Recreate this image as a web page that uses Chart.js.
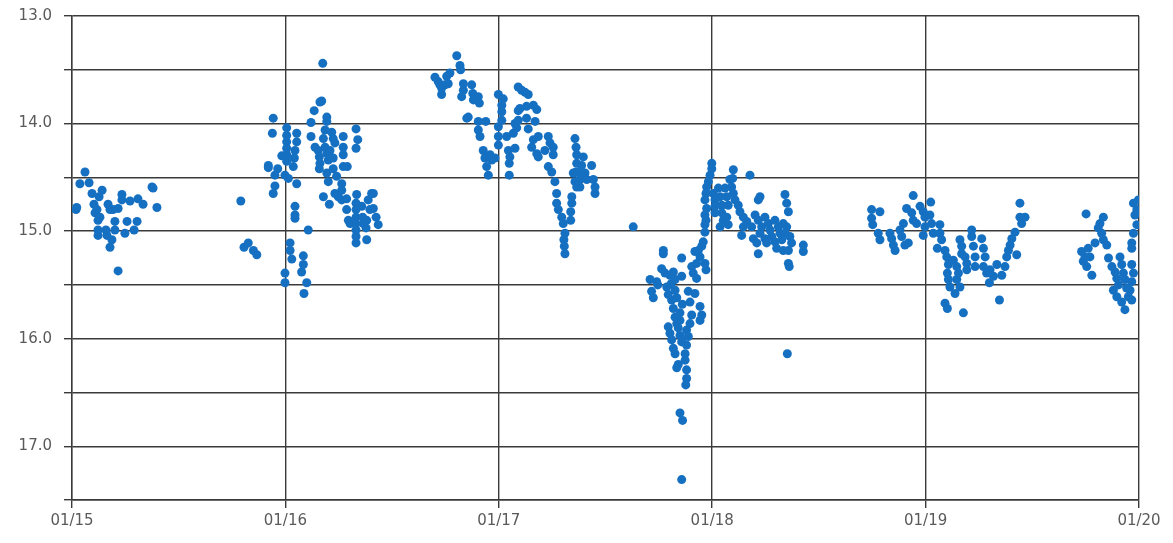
<!DOCTYPE html>
<html>
<head>
<meta charset="utf-8">
<script src="https://cdn.jsdelivr.net/npm/chart.js@4/dist/chart.umd.min.js"></script>
<style>
  html, body { margin: 0; padding: 0; background: #fff; }
  #wrap { width: 1173px; height: 543px; }
</style>
</head>
<body>
<div id="wrap"><canvas id="chart"></canvas></div>
<script>
  // x = day of January (fractional), y = magnitude
  const dayTicks = [15, 16, 17, 18, 19, 20];
  const magRange = [13.0, 17.5];

  const night15 = [
    [15.061, 14.45], [15.037, 14.56], [15.080, 14.55], [15.022, 14.78], [15.019, 14.80],
    [15.094, 14.65], [15.141, 14.62], [15.127, 14.68], [15.103, 14.75], [15.117, 14.80],
    [15.108, 14.83], [15.131, 14.87], [15.122, 14.90], [15.169, 14.75], [15.178, 14.80],
    [15.192, 14.80], [15.216, 14.79], [15.234, 14.66], [15.234, 14.71], [15.272, 14.72],
    [15.309, 14.70], [15.333, 14.75], [15.375, 14.59], [15.380, 14.60], [15.398, 14.78],
    [15.201, 14.91], [15.258, 14.91], [15.305, 14.91], [15.122, 14.99], [15.122, 15.04],
    [15.159, 14.99], [15.164, 15.04], [15.201, 14.99], [15.248, 15.02], [15.291, 14.99],
    [15.187, 15.08], [15.178, 15.15], [15.216, 15.37]
  ];

  const night16 = [
    [16.175, 13.44], [16.170, 13.79], [16.162, 13.80], [16.135, 13.88], [15.943, 13.95],
    [16.120, 13.99], [16.194, 13.94], [16.194, 13.98], [15.939, 14.09],
    [16.006, 14.04], [16.006, 14.11], [16.006, 14.17], [16.006, 14.23], [16.006, 14.29], [16.006, 14.35],
    [16.053, 14.09], [16.053, 14.17], [16.045, 14.25], [16.042, 14.32], [16.037, 14.40],
    [15.983, 14.30], [15.920, 14.39], [15.920, 14.41], [15.964, 14.42], [15.951, 14.48],
    [15.998, 14.48], [16.014, 14.51], [16.053, 14.56], [15.951, 14.58], [15.943, 14.65],
    [15.791, 14.72], [16.045, 14.77], [16.045, 14.85], [16.045, 14.88], [16.107, 14.99],
    [15.826, 15.11], [15.806, 15.15], [15.850, 15.18], [15.866, 15.22], [16.022, 15.11],
    [16.022, 15.18], [16.030, 15.26], [16.084, 15.23], [16.084, 15.31], [16.076, 15.38],
    [15.998, 15.39], [15.998, 15.48], [16.100, 15.48], [16.087, 15.58],
    [16.120, 14.12], [16.139, 14.22], [16.154, 14.25], [16.159, 14.31], [16.162, 14.37],
    [16.159, 14.42], [16.186, 14.06], [16.178, 14.14], [16.186, 14.22], [16.194, 14.28],
    [16.201, 14.34], [16.217, 14.08], [16.224, 14.14], [16.232, 14.18], [16.209, 14.25],
    [16.224, 14.32], [16.224, 14.42], [16.194, 14.46], [16.201, 14.54], [16.271, 14.12],
    [16.271, 14.22], [16.271, 14.29], [16.271, 14.40], [16.290, 14.40], [16.331, 14.05],
    [16.339, 14.15], [16.331, 14.23], [16.240, 14.49], [16.264, 14.56], [16.264, 14.62],
    [16.248, 14.68], [16.264, 14.71], [16.178, 14.68], [16.206, 14.75], [16.232, 14.65],
    [16.287, 14.70],
    [16.334, 14.66], [16.287, 14.80], [16.295, 14.90], [16.303, 14.93],
    [16.331, 14.74], [16.331, 14.80], [16.331, 14.87], [16.331, 14.93], [16.331, 14.99],
    [16.331, 15.05], [16.331, 15.11], [16.358, 14.77], [16.362, 14.87], [16.365, 14.93],
    [16.388, 14.71], [16.396, 14.80], [16.381, 14.90], [16.378, 14.97], [16.404, 14.65],
    [16.412, 14.65], [16.412, 14.79], [16.425, 14.87], [16.435, 14.94], [16.381, 15.08]
  ];

  const night17 = [
    [16.803, 13.37], [16.818, 13.46], [16.821, 13.50], [16.701, 13.57], [16.716, 13.61],
    [16.724, 13.64], [16.732, 13.67], [16.732, 13.73], [16.756, 13.56], [16.771, 13.53],
    [16.763, 13.63], [16.748, 13.64], [16.834, 13.63], [16.834, 13.69], [16.826, 13.75],
    [16.873, 13.64], [16.878, 13.72], [16.881, 13.78], [16.904, 13.75], [16.909, 13.81],
    [16.857, 13.94], [16.850, 13.95], [16.904, 13.98], [16.904, 14.06], [16.912, 14.12],
    [16.939, 13.98], [16.927, 14.25], [16.935, 14.32], [16.943, 14.40], [16.951, 14.48],
    [16.959, 14.29], [16.967, 14.34], [16.982, 14.32], [16.998, 13.73], [17.014, 13.83],
    [17.014, 13.89], [17.014, 13.97], [17.021, 13.77], [16.998, 14.03], [16.998, 14.12],
    [16.998, 14.20], [17.037, 14.12], [17.045, 14.25], [17.052, 14.31], [17.049, 14.37],
    [17.049, 14.48], [17.076, 14.23], [17.068, 14.09], [17.076, 14.00], [17.091, 13.97],
    [17.084, 14.04], [17.091, 13.66], [17.107, 13.69], [17.123, 13.71], [17.138, 13.73],
    [17.099, 13.86], [17.091, 13.88], [17.130, 13.84], [17.130, 13.95], [17.162, 13.83],
    [17.178, 13.87], [17.170, 13.98], [17.138, 14.05], [17.162, 14.15], [17.154, 14.22],
    [17.178, 14.28], [17.185, 14.31], [17.185, 14.12], [17.216, 14.25], [17.240, 14.18],
    [17.232, 14.12], [17.255, 14.22], [17.255, 14.29], [17.232, 14.40], [17.248, 14.45],
    [17.263, 14.54], [17.271, 14.65], [17.271, 14.74], [17.279, 14.80], [17.295, 14.87],
    [17.302, 14.93], [17.310, 15.02], [17.305, 15.08], [17.307, 15.14], [17.310, 15.21],
    [17.342, 14.68], [17.342, 14.74], [17.337, 14.82], [17.337, 14.90], [17.357, 14.14],
    [17.362, 14.22], [17.365, 14.29], [17.365, 14.37], [17.362, 14.45], [17.349, 14.46],
    [17.357, 14.54], [17.365, 14.59], [17.396, 14.31], [17.388, 14.39], [17.388, 14.46],
    [17.404, 14.46], [17.412, 14.52], [17.435, 14.39], [17.443, 14.52], [17.451, 14.59],
    [17.451, 14.65], [17.380, 14.52], [17.380, 14.59]
  ];

  const night18a = [
    [17.630, 14.96], [17.771, 15.18], [17.771, 15.21], [17.857, 15.25], [17.966, 14.94],
    [17.966, 15.01], [17.958, 15.10], [17.951, 15.14], [17.935, 15.18], [17.919, 15.19],
    [17.943, 15.24], [17.927, 15.30], [17.966, 15.30], [17.971, 15.36], [17.904, 15.33],
    [17.911, 15.39], [17.927, 15.44], [17.763, 15.35], [17.779, 15.39], [17.802, 15.41],
    [17.818, 15.38], [17.826, 15.45], [17.857, 15.42], [17.709, 15.45], [17.740, 15.47],
    [17.716, 15.56], [17.724, 15.62], [17.787, 15.52], [17.794, 15.59], [17.810, 15.64],
    [17.826, 15.55], [17.834, 15.62], [17.888, 15.56], [17.919, 15.58], [17.896, 15.66],
    [17.943, 15.70], [17.951, 15.78], [17.943, 15.83], [17.818, 15.72], [17.826, 15.80],
    [17.834, 15.86], [17.849, 15.76], [17.849, 15.83], [17.904, 15.78], [17.896, 15.86],
    [17.794, 15.89], [17.802, 15.95], [17.810, 16.01], [17.818, 16.09], [17.841, 15.90],
    [17.849, 15.97], [17.857, 16.03], [17.880, 15.92], [17.888, 15.98], [17.880, 16.06],
    [17.873, 16.14], [17.826, 16.14], [17.841, 16.24], [17.834, 16.27], [17.873, 16.20],
    [17.880, 16.29], [17.880, 16.37], [17.876, 16.43], [17.849, 16.69], [17.861, 16.76],
    [17.857, 17.31], [17.745, 15.50], [17.807, 15.49], [17.860, 15.68]
  ];

  const night18b = [
    [17.998, 14.37], [17.998, 14.42], [17.990, 14.48], [17.982, 14.54], [17.974, 14.59],
    [17.971, 14.65], [17.966, 14.71], [17.974, 14.79], [17.966, 14.85], [17.971, 14.90],
    [18.005, 14.65], [18.013, 14.71], [18.013, 14.77], [18.013, 14.83], [18.029, 14.60],
    [18.037, 14.68], [18.045, 14.76], [18.045, 14.83], [18.052, 14.90], [18.037, 14.96],
    [18.068, 14.87], [18.075, 14.94], [18.060, 14.60], [18.068, 14.68], [18.075, 14.76],
    [18.083, 14.52], [18.091, 14.59], [18.099, 14.65], [18.107, 14.71], [18.099, 14.43],
    [18.096, 14.51], [18.177, 14.48], [18.122, 14.76], [18.130, 14.82], [18.146, 14.87],
    [18.146, 14.96], [18.138, 15.04], [18.162, 14.91], [18.185, 14.96], [18.224, 14.68],
    [18.216, 14.71], [18.201, 14.85], [18.216, 14.90], [18.232, 14.96], [18.224, 15.02],
    [18.193, 15.07], [18.209, 15.11], [18.216, 15.21], [18.247, 14.87], [18.263, 14.93],
    [18.271, 14.99], [18.279, 15.05], [18.294, 15.10], [18.302, 15.16], [18.294, 14.90],
    [18.310, 14.96], [18.318, 15.02], [18.341, 14.66], [18.349, 14.74], [18.357, 14.82],
    [18.333, 14.93], [18.349, 14.96], [18.341, 15.02], [18.326, 15.08], [18.333, 15.18],
    [18.364, 15.05], [18.372, 15.11], [18.357, 15.18], [18.357, 15.30], [18.361, 15.33],
    [18.427, 15.13], [18.427, 15.19], [18.352, 16.14], [18.247, 15.07], [18.255, 15.11]
  ];

  const night19 = [
    [18.747, 14.80], [18.786, 14.82], [18.747, 14.88], [18.752, 14.94], [18.778, 15.02],
    [18.786, 15.08], [18.833, 15.02], [18.841, 15.07], [18.849, 15.13], [18.857, 15.18],
    [18.880, 14.99], [18.888, 15.05], [18.903, 15.13], [18.919, 15.11], [18.896, 14.93],
    [18.942, 14.67], [18.911, 14.79], [18.935, 14.83], [18.942, 14.90], [18.958, 14.93],
    [18.974, 14.77], [18.989, 14.82], [18.997, 14.87], [19.024, 14.73], [18.997, 14.96],
    [18.989, 15.04], [19.020, 14.85], [19.028, 14.93], [19.036, 15.02], [19.067, 14.94],
    [19.067, 15.02], [19.075, 15.08], [19.055, 15.16], [19.091, 15.18], [19.099, 15.24],
    [19.107, 15.31], [19.102, 15.39], [19.107, 15.45], [19.114, 15.52], [19.138, 15.58],
    [19.091, 15.67], [19.102, 15.72], [19.177, 15.76], [19.130, 15.27], [19.146, 15.33],
    [19.154, 15.39], [19.146, 15.45], [19.161, 15.52], [19.161, 15.08], [19.169, 15.14],
    [19.169, 15.21], [19.185, 15.24], [19.193, 15.30], [19.193, 15.36], [19.216, 14.99],
    [19.216, 15.05], [19.224, 15.14], [19.232, 15.24], [19.232, 15.33], [19.263, 15.07],
    [19.271, 15.16], [19.279, 15.24], [19.271, 15.33], [19.286, 15.39], [19.302, 15.36],
    [19.318, 15.42], [19.334, 15.31], [19.357, 15.41], [19.299, 15.48], [19.346, 15.64],
    [19.380, 15.24], [19.388, 15.18], [19.372, 15.33], [19.396, 15.13], [19.404, 15.07],
    [19.419, 15.01], [19.427, 15.22], [19.442, 14.74], [19.442, 14.87], [19.450, 14.93],
    [19.466, 14.87]
  ];

  const night20 = [
    [19.752, 14.84], [19.817, 14.93], [19.809, 14.97], [19.825, 15.02], [19.833, 15.08],
    [19.849, 15.13], [19.833, 14.87], [19.794, 15.11], [19.731, 15.19], [19.747, 15.24],
    [19.739, 15.28], [19.755, 15.33], [19.770, 15.24], [19.762, 15.16], [19.779, 15.41],
    [19.857, 15.25], [19.873, 15.33], [19.888, 15.38], [19.896, 15.44], [19.904, 15.50],
    [19.880, 15.55], [19.896, 15.61], [19.919, 15.66], [19.934, 15.73], [19.911, 15.24],
    [19.919, 15.31], [19.927, 15.39], [19.934, 15.45], [19.942, 15.53], [19.966, 15.31],
    [19.974, 15.39], [19.966, 15.47], [19.958, 15.55], [19.966, 15.64], [19.950, 15.61],
    [19.974, 14.74], [19.990, 14.80], [19.997, 14.71], [19.981, 14.85], [19.990, 14.94],
    [19.974, 15.02], [19.966, 15.11], [19.966, 15.16]
  ];

  const allNights = [night15, night16, night17, night18a, night18b, night19, night20];
  const points = allNights.flat().map(([x, y]) => ({ x, y }));

  const GRID = "#3a3a3a";
  const LABEL = "#5a5a5a";
  const DOT = "rgb(22, 112, 194)";
  const tickFont = { family: "DejaVu Sans", size: 15 };

  new Chart(document.getElementById("chart"), {
    type: "scatter",
    data: {
      datasets: [
        {
          data: points,
          backgroundColor: DOT,
          pointBackgroundColor: DOT,
          pointBorderWidth: 0,
          pointBorderColor: DOT,
          borderWidth: 0,
          pointRadius: 4.5,
          pointHoverRadius: 4.5,
        },
      ],
    },
    options: {
      responsive: true,
      maintainAspectRatio: false,
      animation: false,
      layout: { padding: { top: 16, right: 34, left: 0, bottom: 0 } },
      plugins: {
        legend: { display: false },
        tooltip: { enabled: false },
      },
      scales: {
        x: {
          type: "linear",
          min: dayTicks[0],
          max: dayTicks[dayTicks.length - 1],
          afterBuildTicks: (scale) => {
            scale.ticks = dayTicks.map((v) => ({ value: v }));
          },
          afterFit: (scale) => {
            scale.height = 43;
            scale.paddingLeft = 0;
            scale.paddingRight = 0;
          },
          ticks: {
            color: LABEL,
            font: tickFont,
            padding: 4,
            maxRotation: 0,
            callback: (v) => "01/" + v,
          },
          grid: { color: GRID, lineWidth: 1.4, tickLength: 8 },
          border: { color: GRID, width: 1.4 },
        },
        y: {
          type: "linear",
          reverse: true,
          min: magRange[0],
          max: magRange[1],
          afterFit: (scale) => {
            scale.width = 72;
            scale.paddingTop = 0;
            scale.paddingBottom = 0;
          },
          ticks: {
            stepSize: 0.5,
            color: LABEL,
            font: tickFont,
            padding: 12,
            callback: (v) => (Number.isInteger(v) ? v.toFixed(1) : ""),
          },
          grid: { color: GRID, lineWidth: 1.4, tickLength: 8 },
          border: { color: GRID, width: 1.4 },
        },
      },
    },
  });
</script>
</body>
</html>
